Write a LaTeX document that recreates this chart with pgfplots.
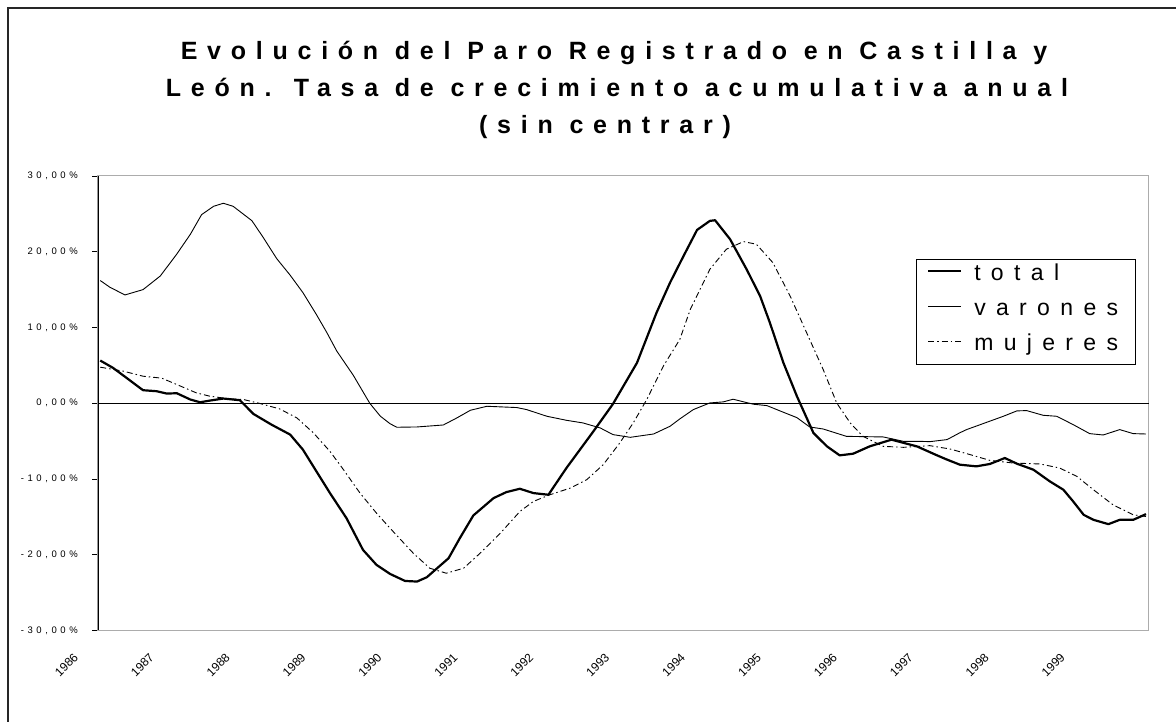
\documentclass[border=0pt]{standalone}
\usepackage{fontspec}
\setmainfont{Liberation Sans}
\newfontfamily\titlefont[LetterSpace=39]{Liberation Sans}
\newfontfamily\tickfont[LetterSpace=38]{Liberation Sans}
\newfontfamily\legfont[LetterSpace=45]{Liberation Sans}
\usepackage{pgfplots}
\pgfplotsset{compat=1.18}

\begin{document}
\begin{tikzpicture}[x=1pt,y=1pt]
\path[use as bounding box] (0,0) rectangle (1176,722);
\fill[white] (0,0) rectangle (1176,722);
\draw[line width=2pt, black!85] (8,0) -- (8,714) -- (1176,714);
\node[font=\titlefont\bfseries\fontsize{25}{30}\selectfont, anchor=base, inner sep=0pt] at (614,662) {Evolución del Paro Registrado en Castilla y};
\node[font=\titlefont\bfseries\fontsize{25}{30}\selectfont, anchor=base, inner sep=0pt] at (617,625) {León. Tasa de crecimiento acumulativa anual};
\node[font=\titlefont\bfseries\fontsize{25}{30}\selectfont, anchor=base, inner sep=0pt] at (605,588) {(sin centrar)};
\begin{axis}[
  at={(98pt,91.5pt)}, anchor=south west,
  scale only axis, width=1051pt, height=454.5pt,
  xmin=1986, xmax=2000, ymin=-30, ymax=30,
  axis line style={draw=gray!65, line width=1pt},
  tick align=outside,
  ytick pos=left,
  ytick={-30,-20,-10,0,10,20,30},
  yticklabels={{-30,00\%},{-20,00\%},{-10,00\%},{0,00\%},{10,00\%},{20,00\%},{30,00\%}},
  ytick style={black, line width=0.8pt},
  major tick length=6pt,
  yticklabel style={font=\tickfont\fontsize{9.5}{11}\selectfont, inner sep=0pt, xshift=-14pt},
  xtick={1986.000,1987.011,1988.022,1989.033,1990.044,1991.055,1992.066,1993.077,1994.088,1995.100,1996.111,1997.122,1998.133,1999.144},
  xticklabels={1986,1987,1988,1989,1990,1991,1992,1993,1994,1995,1996,1997,1998,1999},
  xtick style={draw=none},
  xticklabel style={xshift=-22pt, yshift=-19pt, font=\fontsize{12}{14}\selectfont, rotate=45, anchor=east, inner sep=0pt},
  legend style={at={(rel axis cs:0.778,0.817)}, anchor=north west, draw=black, line width=0.8pt,
     inner xsep=11pt, inner ysep=0pt, column sep=12pt, row sep=0pt,
     nodes={inner sep=0pt, text height=21pt, text depth=14pt}, font=\legfont\fontsize{23}{27}\selectfont},
  legend cell align=left,
  legend image code/.code={\draw[#1] (0pt,6pt) -- (33pt,6pt);},
]
\draw[black, line width=1pt] (axis cs:1986,0) -- (axis cs:2000,0);
\draw[black, line width=1.2pt] (rel axis cs:0,0) -- (rel axis cs:0,1);

\addplot[black, line width=2.2pt, line join=round] coordinates {
(1986.03,5.64) (1986.20,4.67) (1986.38,3.35) (1986.60,1.72) (1986.78,1.59) (1986.915,1.28)
(1987.05,1.32) (1987.23,0.49) (1987.36,0.13) (1987.49,0.35) (1987.67,0.62) (1987.89,0.40)
(1988.07,-1.41) (1988.31,-2.82) (1988.56,-4.14) (1988.73,-6.13) (1988.91,-9.0)
(1989.09,-11.86) (1989.31,-15.17) (1989.53,-19.36) (1989.71,-21.34) (1989.89,-22.53)
(1990.09,-23.46) (1990.25,-23.54) (1990.38,-22.97) (1990.67,-20.46) (1990.82,-17.81)
(1991.00,-14.81) (1991.27,-12.52) (1991.44,-11.73) (1991.62,-11.29) (1991.80,-11.86)
(1992.00,-12.08) (1992.24,-8.55) (1992.60,-3.70) (1992.86,-0.09) (1993.18,5.34)
(1993.44,11.95) (1993.62,15.92) (1993.80,19.44) (1993.98,22.88) (1994.15,24.07) (1994.22,24.16)
(1994.42,21.65) (1994.64,17.68) (1994.82,14.15) (1994.95,10.63) (1995.13,5.34) (1995.31,0.93)
(1995.53,-3.92) (1995.71,-5.69) (1995.88,-6.88) (1996.06,-6.66) (1996.28,-5.69) (1996.57,-4.81)
(1996.91,-5.70) (1997.17,-6.85) (1997.30,-7.40) (1997.48,-8.11) (1997.70,-8.33) (1997.88,-8.02)
(1998.08,-7.23) (1998.24,-7.98) (1998.46,-8.77) (1998.68,-10.32) (1998.86,-11.42) (1998.99,-12.96)
(1999.13,-14.73) (1999.26,-15.39) (1999.46,-15.96) (1999.61,-15.39) (1999.79,-15.39) (1999.96,-14.64)
};
\addlegendentry{\makebox[150pt][l]{total}}

\addplot[black, line width=0.9pt, line join=round] coordinates {
(1986.03,16.2) (1986.16,15.3) (1986.36,14.3) (1986.60,15.0) (1986.83,16.8) (1987.05,19.7)
(1987.23,22.3) (1987.38,24.9) (1987.54,26.0) (1987.67,26.4) (1987.80,26.0) (1988.05,24.1)
(1988.20,21.9) (1988.38,19.1) (1988.56,16.9) (1988.73,14.6) (1988.91,11.7) (1989.05,9.3)
(1989.18,6.9) (1989.40,3.7) (1989.62,0.0) (1989.76,-1.7) (1989.89,-2.7) (1989.98,-3.17)
(1990.25,-3.13) (1990.60,-2.87) (1990.78,-1.94) (1990.96,-0.93) (1991.18,-0.40) (1991.58,-0.57)
(1991.71,-0.84) (1991.98,-1.72) (1992.24,-2.25) (1992.46,-2.60) (1992.69,-3.26) (1992.86,-4.14)
(1993.09,-4.50) (1993.40,-4.06) (1993.62,-3.04) (1993.75,-2.07) (1993.93,-0.84) (1994.15,0.04)
(1994.33,0.18) (1994.46,0.53) (1994.73,-0.13) (1994.91,-0.31) (1995.13,-1.19) (1995.31,-1.90)
(1995.48,-3.13) (1995.66,-3.40) (1995.97,-4.37) (1996.46,-4.45) (1996.73,-5.03) (1996.95,-5.03)
(1997.08,-5.07) (1997.31,-4.80) (1997.48,-3.90) (1997.57,-3.48) (1997.84,-2.51) (1998.06,-1.72)
(1998.24,-1.01) (1998.37,-0.97) (1998.59,-1.59) (1998.77,-1.72) (1998.99,-2.82) (1999.21,-4.01)
(1999.39,-4.19) (1999.61,-3.48) (1999.79,-4.01) (1999.96,-4.06)
};
\addlegendentry{\makebox[150pt][l]{varones}}

\addplot[black, line width=0.9pt, dash pattern=on 6pt off 3pt on 1.5pt off 3pt] coordinates {
(1986.03,4.76) (1986.34,4.23) (1986.60,3.57) (1986.85,3.31) (1987.05,2.47) (1987.31,1.37)
(1987.49,0.93) (1987.76,0.57) (1987.94,0.49) (1988.16,-0.04) (1988.42,-0.75) (1988.65,-1.94)
(1988.87,-3.92) (1989.09,-6.35) (1989.27,-8.77) (1989.49,-11.86) (1989.71,-14.51) (1989.89,-16.49)
(1990.20,-19.80) (1990.42,-21.78) (1990.64,-22.44) (1990.87,-21.78) (1991.09,-19.80) (1991.36,-17.15)
(1991.62,-14.29) (1991.80,-12.96) (1992.02,-12.08) (1992.29,-11.20) (1992.51,-10.10) (1992.73,-8.11)
(1992.95,-5.25) (1993.13,-2.60) (1993.31,0.49) (1993.53,4.89) (1993.75,8.42) (1993.89,12.39)
(1994.15,17.68) (1994.37,20.33) (1994.60,21.34) (1994.77,20.99) (1994.99,18.56) (1995.22,14.15)
(1995.44,9.30) (1995.66,4.45) (1995.84,0.04) (1996.02,-2.60) (1996.19,-4.37) (1996.46,-5.69)
(1996.73,-5.82) (1997.08,-5.60) (1997.35,-6.04) (1997.62,-6.79) (1997.88,-7.54) (1998.19,-7.89)
(1998.55,-8.02) (1998.81,-8.55) (1999.04,-9.66) (1999.26,-11.42) (1999.52,-13.40) (1999.79,-14.73)
(1999.96,-14.95)
};
\addlegendentry{\makebox[150pt][l]{mujeres}}
\end{axis}
\end{tikzpicture}
\end{document}
